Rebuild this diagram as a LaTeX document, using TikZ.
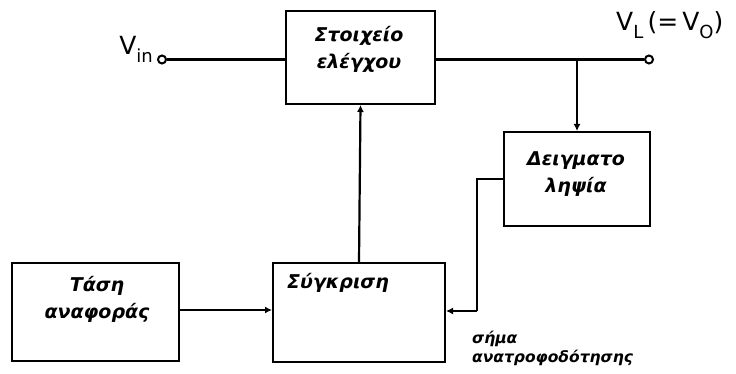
\documentclass[tikz,border=0pt]{standalone}
\usepackage{fontspec}
\setmainfont{DejaVu Sans}
\usetikzlibrary{arrows.meta}
\newcommand{\lowsub}[1]{\raisebox{-0.32em}{\fontsize{18}{18}\selectfont #1}}
\begin{document}
\begin{tikzpicture}[x=1pt,y=-1pt,
  blk/.style={draw,line width=2pt,minimum width=0,inner sep=0},
  lbl/.style={font=\bfseries\itshape\fontsize{19}{27}\selectfont,align=center,inner sep=0},
  wire/.style={line width=2.2pt},
  arr/.style={wire,-{Latex[length=7pt,width=7pt]}},
  term/.style={circle,draw,line width=2pt,fill=white,minimum size=8pt,inner sep=0}]
\useasboundingbox (0,0) rectangle (736,374);
% boxes
\node[blk,minimum width=149pt,minimum height=93pt] (ctrl) at (360.5,57.5) {};
\node[blk,minimum width=146pt,minimum height=94pt] (samp) at (577,179) {};
\node[blk,minimum width=167pt,minimum height=98pt] (ref) at (95.5,312) {};
\node[blk,minimum width=172pt,minimum height=99pt] (cmp) at (359,312.5) {};
% labels
\node[lbl] at (359,49) {Στοιχείο\\ελέγχου};
\node[lbl] at (576,174) {Δειγματο\\ληψία};
\node[lbl] at (97,299) {Τάση\\αναφοράς};
\node[lbl] at (338,283) {Σύγκριση};
\node[font=\bfseries\itshape\fontsize{15.5}{19}\selectfont,align=left,anchor=north west,inner sep=0] (fb) at (472,331) {σήμα\\ανατροφοδότησης};
% terminals
\node[term] (vin) at (162,59.5) {};
\node[term] (vout) at (649,59.5) {};
\node[anchor=base east,inner sep=0,font=\fontsize{25}{26}\selectfont] (vinl) at (153,55) {V\lowsub{in}};
\node[anchor=base west,inner sep=0,font=\fontsize{25}{26}\selectfont] (voutl) at (616,31) {V\lowsub{L}\,(=\,V\lowsub{O})};
\coordinate (br) at (577,59.5);
\coordinate (c1) at (477,179);
\coordinate (c2) at (477,311);
% connectors
\draw[wire] (vin) -- (vin -| ctrl.west);
\draw[wire] (ctrl.east |- br) -- (vout);
\draw[arr] (br) -- (samp.north);
\draw[arr] (cmp.north) -- (ctrl.south);
\draw[arr] (ref.east |- 0,310) -- (cmp.west |- 0,310);
\draw[wire] (samp.west |- c1) -- (c1) -- (c2);
\draw[arr] (c2) -- (cmp.east |- c2);
\end{tikzpicture}
\end{document}
